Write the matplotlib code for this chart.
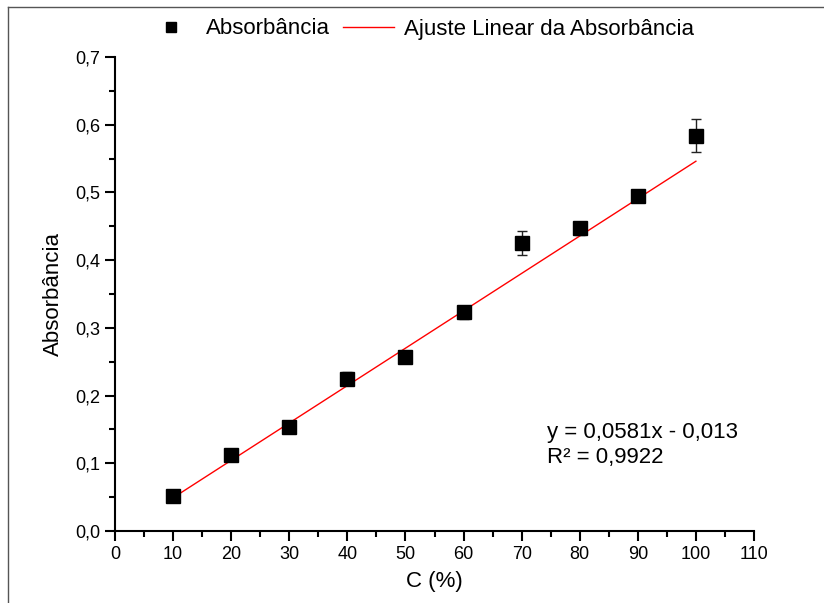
import numpy as np
import matplotlib.pyplot as plt
from matplotlib.lines import Line2D
from matplotlib.ticker import MultipleLocator, FuncFormatter

plt.rcParams['font.family'] = ['Liberation Sans', 'DejaVu Sans']

# Concentração (%) e absorbância medida
conc = [10, 20, 30, 40, 50, 60, 70, 80, 90, 100]
absorb = [0.052, 0.112, 0.154, 0.225, 0.257, 0.323, 0.425, 0.447, 0.495, 0.584]
erro = [0.003, 0.003, 0.003, 0.0095, 0.003, 0.0095, 0.018, 0.0100, 0.003, 0.024]

equacao = 'y = 0,0581x - 0,013\nR² = 0,9922'

fig = plt.figure(figsize=(8.24, 6.03), dpi=100)
ax = fig.add_axes([115 / 824, 1 - 531 / 603, 639 / 824, 474 / 603])

# moldura da figura
fig.add_artist(Line2D([8 / 824, 8 / 824], [0, 1 - 7 / 603], color='#555555', lw=1))
fig.add_artist(Line2D([8 / 824, 1], [1 - 7 / 603, 1 - 7 / 603], color='#555555', lw=1))

ax.errorbar(conc, absorb, yerr=erro, fmt='none', ecolor='#222222',
            elinewidth=1, capsize=3.5, capthick=1, zorder=2)
ax.plot(conc, absorb, 's', color='black', markersize=9.5, zorder=3, label='Absorbância')

# ajuste linear ponderado pelos erros
a, b = np.polyfit(conc, absorb, 1, w=1 / np.array(erro))
xs = np.array([min(conc), max(conc)])
ax.plot(xs, a * xs + b, color='red', lw=1, zorder=2.5, label='Ajuste Linear da Absorbância')

ax.set_xlim(0, 110)
ax.set_ylim(0, 0.7)
ax.spines['top'].set_visible(False)
ax.spines['right'].set_visible(False)
ax.spines['left'].set_linewidth(1.5)
ax.spines['bottom'].set_linewidth(1.5)
ax.xaxis.set_major_locator(MultipleLocator(10))
ax.xaxis.set_minor_locator(MultipleLocator(5))
ax.yaxis.set_major_locator(MultipleLocator(0.1))
ax.yaxis.set_minor_locator(MultipleLocator(0.05))
ax.yaxis.set_major_formatter(FuncFormatter(lambda v, p: f'{v:.1f}'.replace('.', ',')))
ax.tick_params(which='major', direction='out', length=7, width=1.5, labelsize=13)
ax.tick_params(which='minor', direction='out', length=4, width=1.5)

ax.set_xlabel('C (%)', fontsize=16, labelpad=6)
ax.set_ylabel('Absorbância', fontsize=16, labelpad=8)

ax.text(74.3, 0.127, equacao, fontsize=16, linespacing=1.3, va='center')

fig.legend(loc='center', bbox_to_anchor=(0.509, 1 - 29 / 603), ncol=2, frameon=False,
           fontsize=16, handlelength=2.3, columnspacing=0.55, handletextpad=0.45,
           markerscale=0.8)

fig.savefig('out.png', dpi=100)
